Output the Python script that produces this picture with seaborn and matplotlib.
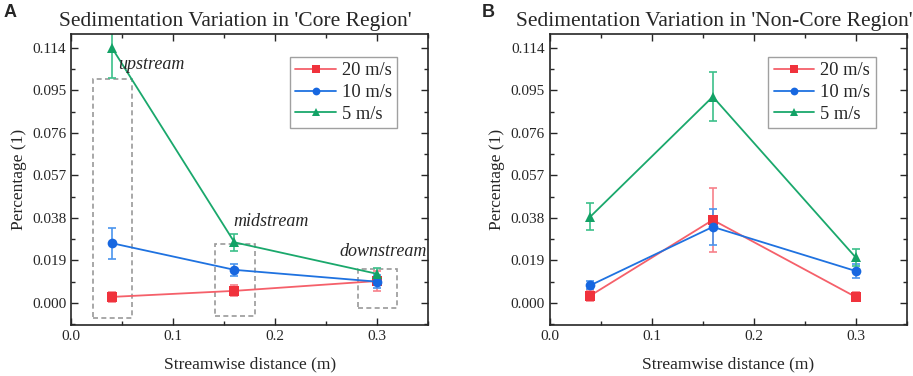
import matplotlib
matplotlib.use("Agg")
from matplotlib import pyplot as plt
from matplotlib.colors import to_hex
from matplotlib.patches import Rectangle
from matplotlib.ticker import MultipleLocator, FormatStrFormatter
import pandas as pd
import seaborn as sns

# data
distance = [0.04, 0.16, 0.30]
speeds = ["20 m/s", "10 m/s", "5 m/s"]

core_20 = [0.0027, 0.0054, 0.0098]
core_20_err = [0.0024, 0.0025, 0.0045]
core_10 = [0.0267, 0.0148, 0.0095]
core_10_err = [0.0070, 0.0027, 0.0030]
core_5 = [0.1140, 0.0271, 0.0130]
core_5_err = [0.0134, 0.0039, 0.0028]

noncore_20 = [0.0033, 0.0371, 0.0027]
noncore_20_err = [0.0023, 0.0145, 0.0020]
noncore_10 = [0.0079, 0.0340, 0.0143]
noncore_10_err = [0.0018, 0.0080, 0.0030]
noncore_5 = [0.0386, 0.0922, 0.0204]
noncore_5_err = [0.0060, 0.0110, 0.0038]

yticks = [0.000, 0.019, 0.038, 0.057, 0.076, 0.095, 0.114]

line_colors = {"20 m/s": "#f5606a", "10 m/s": "#1f72e0", "5 m/s": "#1aa86c"}
marker_colors = {"20 m/s": "#f0323c", "10 m/s": "#1767e0", "5 m/s": "#13a266"}
err_colors = {"20 m/s": "#f7808a", "10 m/s": "#4a95ee", "5 m/s": "#3cc08a"}
markers = {"20 m/s": "s", "10 m/s": "o", "5 m/s": "^"}

sns.set_style("ticks")
plt.rcParams["font.family"] = ["Liberation Serif", "DejaVu Serif"]


def make_df(v20, v10, v5):
    rows = []
    for name, vals in zip(speeds, [v20, v10, v5]):
        for d, v in zip(distance, vals):
            rows.append({"distance": d, "value": v, "speed": name})
    return pd.DataFrame(rows)


def recolor_markers(lines):
    # marker fill is a bit darker than the connecting line
    lookup = {v: k for k, v in line_colors.items()}
    for line in lines:
        name = lookup.get(to_hex(line.get_color()))
        if name is not None and line.get_marker() not in (None, "None", ""):
            line.set_markerfacecolor(marker_colors[name])
            line.set_markeredgecolor(marker_colors[name])


def draw_panel(ax, df, errs, title, letter):
    for name in speeds:
        sub = df[df["speed"] == name]
        ax.errorbar(sub["distance"], sub["value"], yerr=errs[name], fmt="none",
                    ecolor=err_colors[name], elinewidth=1.2, capsize=3,
                    capthick=1.2, zorder=2)
    sns.lineplot(data=df, x="distance", y="value", hue="speed", style="speed",
                 hue_order=speeds, style_order=speeds, palette=line_colors,
                 markers=markers, dashes=False, markersize=7, linewidth=1.3,
                 markeredgewidth=0, ax=ax, zorder=3, legend=True)
    recolor_markers(ax.get_lines())

    ax.set_xlim(0, 0.35)
    ax.set_ylim(-0.0098, 0.1203)
    ax.set_yticks(yticks)
    ax.yaxis.set_major_formatter(FormatStrFormatter("%.3f"))
    ax.yaxis.set_minor_locator(MultipleLocator(0.0095))
    ax.set_xticks([0.0, 0.1, 0.2, 0.3])
    ax.xaxis.set_major_formatter(FormatStrFormatter("%.1f"))
    ax.xaxis.set_minor_locator(MultipleLocator(0.05))
    ax.tick_params(which="both", direction="in", top=True, right=True,
                   labelsize=11, width=1)
    ax.tick_params(which="major", length=5)
    ax.tick_params(which="minor", length=3)
    for s in ax.spines.values():
        s.set_linewidth(1.2)
    ax.set_xlabel("Streamwise distance (m)", fontsize=12.5, labelpad=10)
    ax.set_ylabel("Percentage (1)", fontsize=12.5, labelpad=4)
    ax.set_title(title, fontsize=15.5, pad=6, x=0.46)
    ax.text(-0.19, 1.045, letter, transform=ax.transAxes, fontsize=13,
            fontweight="bold", family="Liberation Sans", va="bottom")

    handles, labels = ax.get_legend_handles_labels()
    recolor_markers(handles)
    leg = ax.legend(handles, labels, loc="upper right",
                    bbox_to_anchor=(0.913, 0.921), fontsize=13.3,
                    frameon=True, fancybox=False, edgecolor="#888888",
                    handlelength=2.2, borderpad=0.3, labelspacing=0.25,
                    handletextpad=0.3, borderaxespad=0, markerscale=0.8)
    leg.get_frame().set_linewidth(1)


fig, (ax1, ax2) = plt.subplots(1, 2, figsize=(9.13, 3.76), dpi=100)
fig.subplots_adjust(left=0.078, right=0.993, bottom=0.136, top=0.91, wspace=0.34)

core_df = make_df(core_20, core_10, core_5)
noncore_df = make_df(noncore_20, noncore_10, noncore_5)
core_errs = {"20 m/s": core_20_err, "10 m/s": core_10_err, "5 m/s": core_5_err}
noncore_errs = {"20 m/s": noncore_20_err, "10 m/s": noncore_10_err, "5 m/s": noncore_5_err}

draw_panel(ax1, core_df, core_errs, "Sedimentation Variation in 'Core Region'", "A")
draw_panel(ax2, noncore_df, noncore_errs, "Sedimentation Variation in 'Non-Core Region'", "B")

# dashed boxes marking the zones in panel A
boxes = [(0.0216, -0.0068, 0.0384, 0.1070),
         (0.1410, -0.0057, 0.0390, 0.0319),
         (0.2810, -0.0024, 0.0380, 0.0177)]
for x0, y0, w, h in boxes:
    ax1.add_patch(Rectangle((x0, y0), w, h, fill=False, edgecolor="#999999",
                            linestyle=(0, (3, 2)), linewidth=1.2, zorder=1))
ax1.text(0.046, 0.1064, "upstream", style="italic", fontsize=13, va="center")
ax1.text(0.159, 0.0362, "midstream", style="italic", fontsize=13, va="center")
ax1.text(0.263, 0.0230, "downstream", style="italic", fontsize=13, va="center")

fig.savefig("out.png", dpi=100)
